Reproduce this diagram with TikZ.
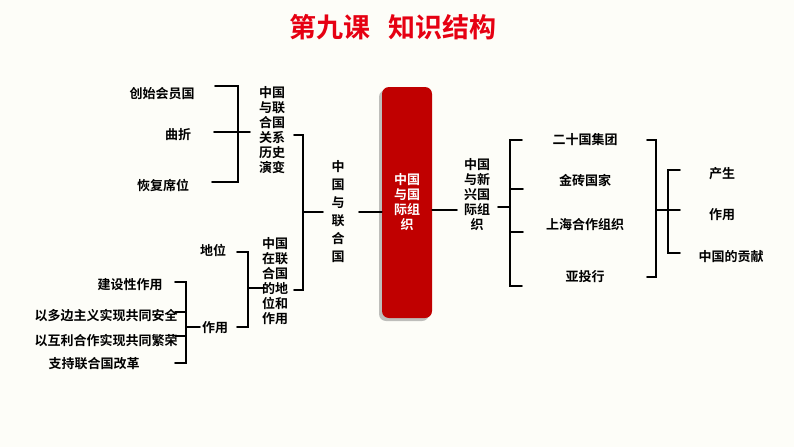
\documentclass[tikz,border=0pt]{standalone}
\usepackage{fontspec}
\newfontfamily\cjk{Noto Sans CJK SC}[BoldFont={Noto Sans CJK SC Bold}]
\usetikzlibrary{shadows}
\begin{document}
\begin{tikzpicture}[x=1pt,y=-1pt,
 lbl/.style={font=\cjk\bfseries\fontsize{13}{15}\selectfont,inner sep=0pt},
 vl/.style={lbl,align=center,font=\cjk\bfseries\fontsize{13}{15}\selectfont},
 br/.style={line width=1.8pt,line cap=round}]
\fill[fill={rgb,255:red,253;green,253;blue,248}] (0,0) rectangle (794,447);
\useasboundingbox (0,0) rectangle (794,447);
\node[font=\cjk\bfseries\fontsize{27}{29}\selectfont,text={rgb,255:red,230;green,0;blue,18}] (title) at (393,27) {第九课\ \ \ 知识结构};
\node[draw=none,fill={rgb,255:red,192;green,0;blue,0},rounded corners=7pt,minimum width=50pt,minimum height=231pt,drop shadow={shadow xshift=-3pt,shadow yshift=-3pt,opacity=0.5}] (box) at (407,202.5) {};
\node[vl,text=white] (boxt) at (407,202) {中国\\与国\\际组\\织};
% left
\node[vl,font=\cjk\bfseries\fontsize{13}{18}\selectfont] (un) at (338,212) {中\\国\\与\\联\\合\\国};
\coordinate (unL) at (323,212);
\draw[br] (box.west|-0,212) -- (359,212);
\node[vl] (hist) at (272,130) {中国\\与联\\合国\\关系\\历史\\演变};
\node[vl] (pos) at (275,281) {中国\\在联\\合国\\的地\\位和\\作用};
\draw[br] (294,135) -- (303,135) -- (303,290) -- (294,290);
\draw[br] (303,212) -- (unL);
\node[lbl] (a1) at (162,94) {创始会员国};
\node[lbl] (a2) at (178,135) {曲折};
\node[lbl] (a3) at (163,185) {恢复席位};
\draw[br] (215,86) -- (238,86) -- (238,182) -- (212,182);
\draw[br] (214,132) -- (250,132);
\node[lbl] (b1) at (213,250) {地位};
\node[lbl] (b2) at (215,328) {作用};
\draw[br] (237,252) -- (248,252) -- (248,327) -- (237,327);
\draw[br] (248,288) -- (265,288);
\node[lbl] (c1) at (130,285) {建设性作用};
\node[lbl] (c2) at (106,316) {以多边主义实现共同安全};
\node[lbl] (c3) at (106,341) {以互利合作实现共同繁荣};
\node[lbl] (c4) at (94,364) {支持联合国改革};
\draw[br] (175,282) -- (186,282) -- (186,363) -- (175,363);
\draw[br] (175,312) -- (186,312);
\draw[br] (175,336) -- (186,336);
\draw[br] (186,327) -- (200,327);
% right
\draw[br] (box.east|-0,210) -- (457,210);
\node[vl] (ne) at (477,195) {中国\\与新\\兴国\\际组\\织};
\draw[br] (498,207) -- (510,207);
\draw[br] (522,140) -- (510,140) -- (510,286) -- (522,286);
\draw[br] (510,189) -- (523,189);
\draw[br] (510,232) -- (523,232);
\node[lbl] (d1) at (585,140) {二十国集团};
\node[lbl] (d2) at (585,181) {金砖国家};
\node[lbl] (d3) at (585,225) {上海合作组织};
\node[lbl] (d4) at (585,277) {亚投行};
\draw[br] (647,140) -- (656,140) -- (656,277) -- (647,277);
\draw[br] (656,210) -- (680,210);
\draw[br] (680,170) -- (668,170) -- (668,253) -- (680,253);
\node[lbl] (e1) at (722,174) {产生};
\node[lbl] (e2) at (722,215) {作用};
\node[lbl] (e3) at (731,257) {中国的贡献};
\end{tikzpicture}
\end{document}
